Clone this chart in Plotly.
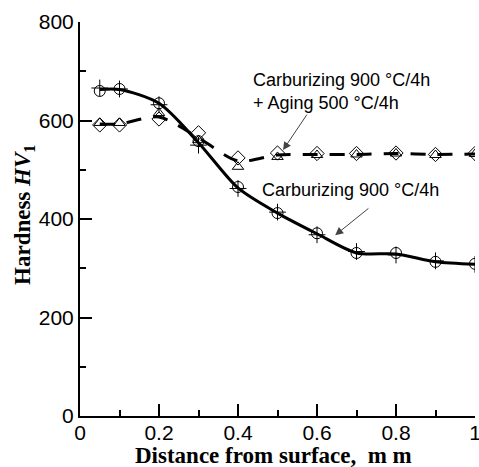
import plotly.graph_objects as go

# Distance from surface (mm)
depth = [0.05, 0.1, 0.2, 0.3, 0.4, 0.5, 0.6, 0.7, 0.8, 0.9, 1.0]

# Carburizing 900 °C/4h: two measurement sets and the fitted curve
carb_circle = [660, 664, 635, 558, 465, 412, 371, 331, 331, 313, 309]
carb_plus = [666, 664, 632, 550, 462, 414, 368, 334, 327, 315, 308]
carb_fit = [663, 663, 635, 555, 463, 412, 370, 331, 329, 313, 308]

# Carburizing 900 °C/4h + Aging 500 °C/4h: two measurement sets and the fitted curve
aged_triangle = [595, 595, 615, 560, 506, 526, 530, 531, 533, 530, 532]
aged_diamond = [591, 591, 603, 575, 524, 534, 533, 533, 534, 531, 533]
aged_fit = [593, 593, 607, 565, 518, 530, 531, 531, 533, 531, 532]

x_ticks = [0, 0.2, 0.4, 0.6, 0.8, 1]
x_tick_text = ["0", "0.2", "0.4", "0.6", "0.8", "1"]
y_ticks = [0, 200, 400, 600, 800]

fig = go.Figure()

fig.add_trace(go.Scatter(
    x=depth, y=aged_fit, mode="lines",
    line=dict(color="black", width=3, dash="15px,12px", shape="spline", smoothing=0.8),
    hoverinfo="skip"))
fig.add_trace(go.Scatter(
    x=depth, y=carb_fit, mode="lines",
    line=dict(color="black", width=3, shape="spline", smoothing=0.8),
    hoverinfo="skip"))

marker_line = dict(color="black", width=1)
fig.add_trace(go.Scatter(
    x=depth, y=aged_triangle, mode="markers",
    marker=dict(symbol="triangle-up-open", size=10, color="black", line=marker_line)))
fig.add_trace(go.Scatter(
    x=depth, y=aged_diamond, mode="markers",
    marker=dict(symbol="diamond-open", size=11, color="black", line=marker_line)))
fig.add_trace(go.Scatter(
    x=depth, y=carb_circle, mode="markers",
    marker=dict(symbol="circle-open", size=11, color="black", line=marker_line)))
fig.add_trace(go.Scatter(
    x=depth, y=carb_plus, mode="markers",
    marker=dict(symbol="cross-thin-open", size=12, color="black", line=marker_line)))

label_font = dict(family="Liberation Sans, Arial, sans-serif", size=18, color="black")
title_font = dict(family="Liberation Serif, Times New Roman, serif", size=23, color="black")

annotations = [
    dict(x=0.433, y=658, xref="x", yref="y", xanchor="left", yanchor="middle", align="left",
         text="Carburizing 900 °C/4h<br>+ Aging 500 °C/4h", showarrow=False, font=label_font),
    dict(x=0.455, y=459, xref="x", yref="y", xanchor="left", yanchor="middle", align="left",
         text="Carburizing 900 °C/4h", showarrow=False, font=label_font),
    # arrows pointing at the two curves
    dict(x=0.514, y=540, ax=0.577, ay=615, xref="x", yref="y", axref="x", ayref="y",
         text="", showarrow=True, arrowhead=2, arrowsize=1.6, arrowwidth=1, arrowcolor="#444"),
    dict(x=0.646, y=367, ax=0.734, ay=424, xref="x", yref="y", axref="x", ayref="y",
         text="", showarrow=True, arrowhead=2, arrowsize=1.6, arrowwidth=1, arrowcolor="#444"),
    # axis titles
    dict(x=-0.142, y=0.51, xref="paper", yref="paper", textangle=-90,
         xanchor="center", yanchor="middle", showarrow=False, font=title_font,
         text="<b>Hardness <i>HV</i><sub>1</sub></b>"),
    dict(x=0.49, y=-0.101, xref="paper", yref="paper",
         xanchor="center", yanchor="middle", showarrow=False, font=title_font,
         text="<b>Distance from surface,  m m</b>"),
]

tick_font = dict(family="Liberation Sans, Arial, sans-serif", size=21, color="black")

fig.update_layout(
    width=479, height=467,
    margin=dict(l=80, r=4, t=22, b=51),
    paper_bgcolor="white", plot_bgcolor="white",
    showlegend=False,
    annotations=annotations,
    xaxis=dict(
        range=[0, 1], tickvals=x_ticks, ticktext=x_tick_text,
        ticks="inside", ticklen=12, tickwidth=2, tickcolor="black",
        minor=dict(ticks="inside", ticklen=6, tickwidth=2, tickcolor="black", dtick=0.1, showgrid=False),
        showline=True, linewidth=2, linecolor="black", mirror=False,
        showgrid=False, zeroline=False, tickfont=tick_font, ticklabelstandoff=-3,
        ticklabeloverflow="allow", automargin=False),
    yaxis=dict(
        range=[0, 800], tickvals=y_ticks,
        ticks="inside", ticklen=12, tickwidth=2, tickcolor="black",
        minor=dict(ticks="inside", ticklen=6, tickwidth=2, tickcolor="black", dtick=100, showgrid=False),
        showline=True, linewidth=2, linecolor="black", mirror=False,
        showgrid=False, zeroline=False, tickfont=tick_font, automargin=False),
)

fig.write_html("out.html")
